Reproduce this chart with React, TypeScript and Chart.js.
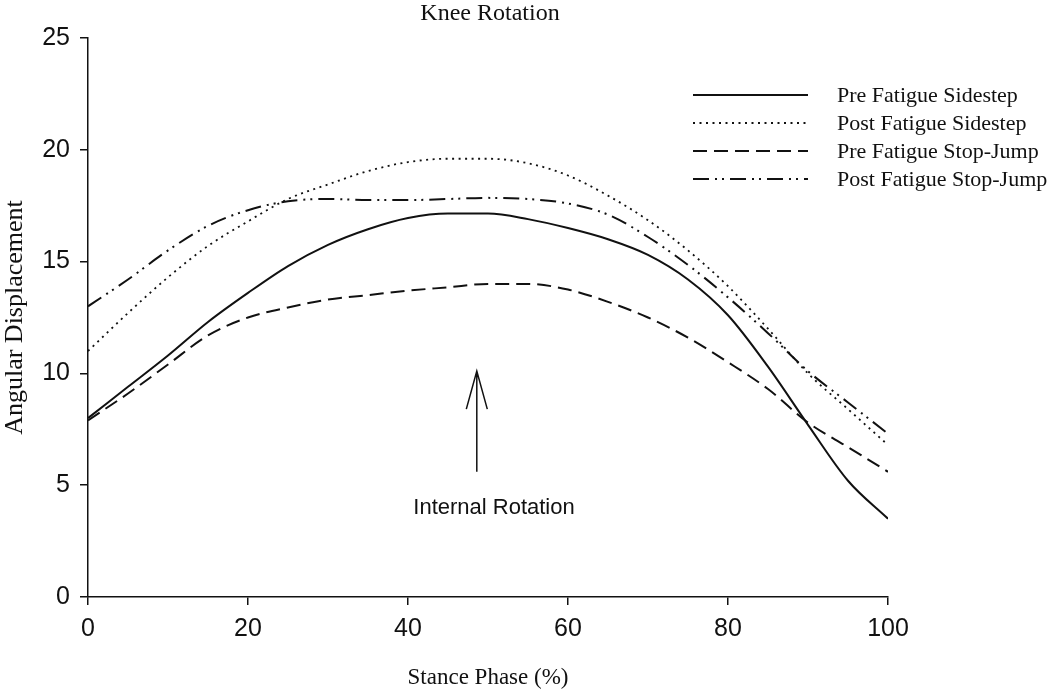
import { useEffect, useRef } from "react";
import { Chart, registerables } from "chart.js";

Chart.register(...registerables);

// ---- data ----
const stancePhase = [0, 5, 10, 15, 20, 25, 30, 35, 40, 45, 50, 55, 60, 65, 70, 75, 80, 85, 90, 95, 100];
const preFatigueSidestep = [8.0, 9.4, 10.8, 12.3, 13.6, 14.8, 15.75, 16.45, 16.95, 17.15, 17.15, 16.9, 16.5, 16.0, 15.3, 14.2, 12.6, 10.3, 7.7, 5.2, 3.5];
const postFatigueSidestep = [11.0, 12.7, 14.3, 15.7, 16.8, 17.8, 18.45, 19.05, 19.45, 19.6, 19.6, 19.4, 18.85, 17.95, 16.85, 15.5, 13.9, 12.0, 10.0, 8.4, 6.8];
const preFatigueStopJump = [7.9, 9.1, 10.4, 11.7, 12.5, 12.95, 13.3, 13.5, 13.7, 13.85, 14.0, 14.0, 13.75, 13.2, 12.5, 11.6, 10.5, 9.3, 7.8, 6.7, 5.6];
const postFatigueStopJump = [13.0, 14.2, 15.5, 16.6, 17.3, 17.7, 17.8, 17.75, 17.75, 17.8, 17.85, 17.8, 17.6, 17.1, 16.1, 14.85, 13.4, 11.8, 10.1, 8.7, 7.3];
const seriesNames = ["Pre Fatigue Sidestep", "Post Fatigue Sidestep", "Pre Fatigue Stop-Jump", "Post Fatigue Stop-Jump"];
const chartTitle = "Knee Rotation";
const xAxisTitle = "Stance Phase (%)";
const yAxisTitle = "Angular Displacement";
const annotationText = "Internal Rotation";
const arrowX = 48.6;
const arrowFromY = 5.6;
const arrowToY = 10.1;
const annotationTextX = 50.75;
const annotationTextY = 4.0;

// ---- styles ----
const INK = "#111";
const dashes: number[][] = [[], [2, 4.5], [14, 7], [16, 6, 2, 5, 2, 6]];
const widths = [2, 1.8, 2, 2];

const overlayPlugin = {
  id: "overlay",
  afterDraw(chart: any) {
    const ctx = chart.ctx as CanvasRenderingContext2D;
    const xs = chart.scales.x;
    const ys = chart.scales.y;
    ctx.save();
    ctx.fillStyle = INK;
    ctx.strokeStyle = INK;
    // title
    ctx.font = "24px 'Liberation Serif'";
    ctx.textAlign = "center";
    ctx.textBaseline = "middle";
    ctx.fillText(chartTitle, 490, 14);

    // legend
    const lx0 = 693;
    const lx1 = 808;
    const tx = 837;
    const rowY = [95, 123, 151, 179];
    ctx.font = "22px 'Liberation Serif'";
    ctx.textAlign = "left";
    ctx.textBaseline = "middle";
    chart.data.datasets.forEach((ds: any, i: number) => {
      ctx.save();
      ctx.lineWidth = ds.borderWidth;
      ctx.setLineDash(ds.borderDash || []);
      ctx.beginPath();
      ctx.moveTo(lx0, rowY[i]);
      ctx.lineTo(lx1, rowY[i]);
      ctx.stroke();
      ctx.restore();
      ctx.fillText(ds.label, tx, rowY[i] + 1);
    });

    // annotation arrow
    const ax = xs.getPixelForValue(arrowX);
    const ay0 = ys.getPixelForValue(arrowFromY);
    const ay1 = ys.getPixelForValue(arrowToY);
    ctx.lineWidth = 1.5;
    ctx.setLineDash([]);
    ctx.beginPath();
    ctx.moveTo(ax, ay0);
    ctx.lineTo(ax, ay1);
    ctx.moveTo(ax - 10.5, ay1 + 38);
    ctx.lineTo(ax, ay1);
    ctx.lineTo(ax + 10.5, ay1 + 38);
    ctx.stroke();
    ctx.font = "22px 'Liberation Sans'";
    ctx.textAlign = "center";
    ctx.textBaseline = "middle";
    ctx.fillText(annotationText, xs.getPixelForValue(annotationTextX), ys.getPixelForValue(annotationTextY));
    ctx.restore();
  },
};

export default function App() {
  const ref = useRef<HTMLCanvasElement | null>(null);
  useEffect(() => {
    document.body.style.margin = "0";
    const seriesValues = [preFatigueSidestep, postFatigueSidestep, preFatigueStopJump, postFatigueStopJump];
    const chart = new Chart(ref.current as HTMLCanvasElement, {
      type: "line",
      data: {
        datasets: seriesValues.map((vals, i) => ({
          label: seriesNames[i],
          data: stancePhase.map((x, j) => ({ x, y: vals[j] })),
          borderColor: INK,
          backgroundColor: INK,
          borderWidth: widths[i],
          borderDash: dashes[i],
          pointRadius: 0,
          fill: false,
          cubicInterpolationMode: "monotone" as const,
        })),
      },
      options: {
        animation: false,
        responsive: false,
        devicePixelRatio: 1,
        layout: { padding: { top: 38, right: 162, left: 0, bottom: 0 } },
        plugins: {
          legend: { display: false },
          title: { display: false },
          tooltip: { enabled: false },
        },
        scales: {
          x: {
            type: "linear",
            min: 0,
            max: 100,
            ticks: { stepSize: 20, color: INK, font: { family: "'Liberation Sans'", size: 25 }, padding: 9, maxRotation: 0 },
            grid: { drawOnChartArea: false, drawTicks: true, tickLength: 8, color: INK, lineWidth: 1.5 },
            border: { display: true, color: INK, width: 1.5 },
            title: { display: true, text: xAxisTitle, color: INK, font: { family: "'Liberation Serif'", size: 23 }, padding: 0 },
            afterFit: (s: any) => { s.height = 95; },
          },
          y: {
            min: 0,
            max: 25,
            ticks: { stepSize: 5, color: INK, font: { family: "'Liberation Sans'", size: 25 }, padding: 10 },
            grid: { drawOnChartArea: false, drawTicks: true, tickLength: 8, color: INK, lineWidth: 1.5 },
            border: { display: true, color: INK, width: 1.5 },
            title: { display: true, text: yAxisTitle, color: INK, font: { family: "'Liberation Serif'", size: 26 }, padding: 0 },
            afterFit: (s: any) => { s.width = 88; },
          },
        },
      },
      plugins: [overlayPlugin],
    });
    return () => chart.destroy();
  }, []);
  return <canvas ref={ref} width={1050} height={692} style={{ display: "block" }} />;
}
